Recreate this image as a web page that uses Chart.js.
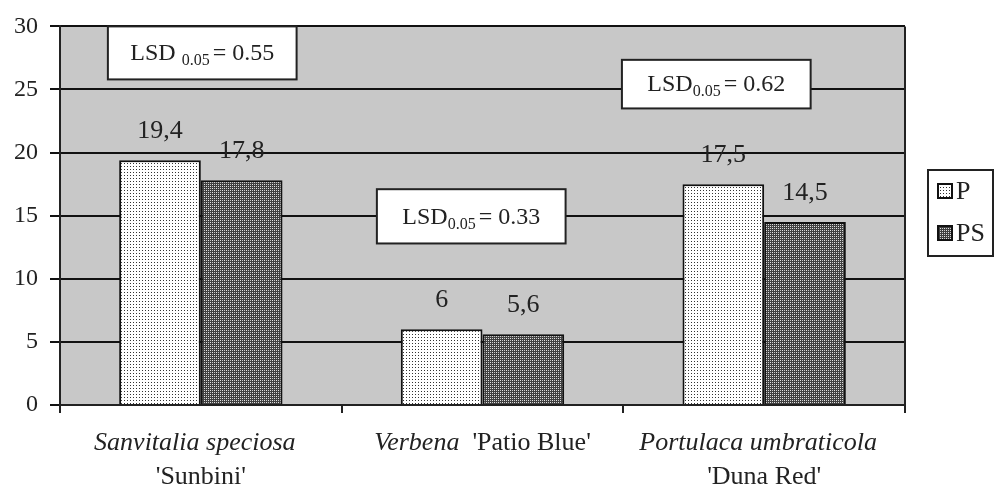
<!DOCTYPE html>
<html>
<head>
<meta charset="utf-8">
<script src="https://cdn.jsdelivr.net/npm/chart.js@4.4.1/dist/chart.umd.min.js"></script>
<style>
  html, body { margin: 0; padding: 0; background: #fff; }
  #wrap { width: 994px; height: 491px; position: relative; }
</style>
</head>
<body>
<div id="wrap"><canvas id="lsdChart" width="994" height="491"></canvas></div>
<script>
// data
var speciesNames = ['Sanvitalia speciosa', 'Verbena', 'Portulaca umbraticola'];
var cultivarNames = ["'Sunbini'", "'Patio Blue'", "'Duna Red'"];
var seriesNames = ['P', 'PS'];
var valuesP = [19.4, 6, 17.5];
var valuesPS = [17.8, 5.6, 14.5];
var lsdValues = ['0.55', '0.33', '0.62'];
var yTicks = [0, 5, 10, 15, 20, 25, 30];

var FONT = "'Liberation Serif', 'Times New Roman', serif";
var INK = '#222';

// fill patterns, like the old excel ones
function makePattern(kind) {
    var c = document.createElement('canvas');
    var g = c.getContext('2d');
    if (kind === 'dots') {
        c.width = 3; c.height = 3;
        g.fillStyle = '#fff';
        g.fillRect(0, 0, 3, 3);
        g.fillStyle = '#333';
        g.fillRect(1, 1, 1, 1);
    } else {
        c.width = 4; c.height = 4;
        g.fillStyle = '#404040';
        g.fillRect(0, 0, 4, 4);
        g.fillStyle = '#e6e6e6';
        g.fillRect(0, 0, 1, 1);
        g.fillRect(2, 2, 1, 1);
        g.fillStyle = '#c8c8c8';
        g.fillRect(2, 0, 1, 1);
        g.fillRect(0, 2, 1, 1);
    }
    return g.createPattern(c, 'repeat');
}
var patternP = makePattern('dots');
var patternPS = makePattern('cross');

// LSD boxes, placed in data units (category offset, value range)
var lsdBoxes = [
    { cat: 0.005, top: 30, bottom: 25.8, gap: true },
    { cat: 0.96, top: 17.1, bottom: 12.8, gap: false },
    { cat: 1.83, top: 27.35, bottom: 23.5, gap: false }
];
var lsdBoxWidth = 0.67; // in category widths

var plotBackground = {
    id: 'plotBackground',
    beforeDraw: function (chart) {
        var a = chart.chartArea, ctx = chart.ctx;
        ctx.save();
        ctx.fillStyle = '#c8c8c8';
        ctx.fillRect(a.left, a.top, a.right - a.left, a.bottom - a.top);
        ctx.restore();
    },
    afterDraw: function (chart) {
        var a = chart.chartArea, ctx = chart.ctx;
        ctx.save();
        ctx.strokeStyle = INK;
        ctx.lineWidth = 2;
        ctx.beginPath();
        ctx.moveTo(a.right, a.top);
        ctx.lineTo(a.right, a.bottom);
        ctx.stroke();
        ctx.restore();
    }
};

var valueLabels = {
    id: 'valueLabels',
    afterDatasetsDraw: function (chart) {
        var ctx = chart.ctx;
        ctx.save();
        ctx.font = '26px ' + FONT;
        ctx.fillStyle = INK;
        ctx.textAlign = 'center';
        ctx.textBaseline = 'middle';
        chart.data.datasets.forEach(function (ds, i) {
            chart.getDatasetMeta(i).data.forEach(function (bar, j) {
                var txt = String(ds.data[j]).replace('.', ',');
                ctx.fillText(txt, bar.x, bar.y - 29);
            });
        });
        ctx.restore();
    }
};

var lsdNotes = {
    id: 'lsdNotes',
    afterDatasetsDraw: function (chart) {
        var ctx = chart.ctx;
        var xs = chart.scales.x, ys = chart.scales.y;
        var catW = xs.getPixelForValue(1) - xs.getPixelForValue(0);
        ctx.save();
        lsdBoxes.forEach(function (b, i) {
            var cx = xs.getPixelForValue(0) + b.cat * catW;
            var w = lsdBoxWidth * catW;
            var top = ys.getPixelForValue(b.top);
            var bot = ys.getPixelForValue(b.bottom);
            ctx.fillStyle = '#fff';
            ctx.fillRect(cx - w / 2, top, w, bot - top);
            ctx.strokeStyle = INK;
            ctx.lineWidth = 2;
            ctx.strokeRect(cx - w / 2, top, w, bot - top);

            var big = '24px ' + FONT, small = '16px ' + FONT;
            var p1 = b.gap ? 'LSD ' : 'LSD';
            var p2 = '0.05';
            var p3 = '= ' + lsdValues[i];
            var gap = 3;
            ctx.font = big;
            var w1 = ctx.measureText(p1).width, w3 = ctx.measureText(p3).width;
            ctx.font = small;
            var w2 = ctx.measureText(p2).width;
            var x = cx - (w1 + w2 + gap + w3) / 2;
            var y = (top + bot) / 2 + 1;
            ctx.fillStyle = INK;
            ctx.textAlign = 'left';
            ctx.textBaseline = 'middle';
            ctx.font = big;
            ctx.fillText(p1, x, y);
            ctx.font = small;
            ctx.fillText(p2, x + w1, y + 7);
            ctx.font = big;
            ctx.fillText(p3, x + w1 + w2 + gap, y);
        });
        ctx.restore();
    }
};

var categoryLabels = {
    id: 'categoryLabels',
    afterDraw: function (chart) {
        var ctx = chart.ctx, xs = chart.scales.x;
        var y1 = xs.top + 38, y2 = xs.top + 72;
        ctx.save();
        ctx.fillStyle = INK;
        ctx.textBaseline = 'middle';
        speciesNames.forEach(function (name, i) {
            var cx = xs.getPixelForValue(i);
            if (i === 1) {
                // genus and cultivar share one line here
                ctx.font = 'italic 26px ' + FONT;
                var wa = ctx.measureText(name + '  ').width;
                ctx.font = '26px ' + FONT;
                var wb = ctx.measureText(cultivarNames[i]).width;
                var x0 = cx - (wa + wb) / 2;
                ctx.textAlign = 'left';
                ctx.font = 'italic 26px ' + FONT;
                ctx.fillText(name, x0, y1);
                ctx.font = '26px ' + FONT;
                ctx.fillText(cultivarNames[i], x0 + wa, y1);
            } else {
                ctx.textAlign = 'center';
                ctx.font = 'italic 26px ' + FONT;
                ctx.fillText(name, cx - 6, y1);
                ctx.font = '26px ' + FONT;
                ctx.fillText(cultivarNames[i], cx, y2);
            }
        });
        ctx.restore();
    }
};

var legendBox = {
    id: 'legendBox',
    afterDraw: function (chart) {
        var ctx = chart.ctx;
        var left = 928, top = 170, right = 993, bottom = 256;
        ctx.save();
        ctx.strokeStyle = INK;
        ctx.lineWidth = 2;
        ctx.strokeRect(left, top, right - left, bottom - top);
        var rows = [191, 233];
        chart.data.datasets.forEach(function (ds, i) {
            var cy = rows[i];
            ctx.fillStyle = ds.backgroundColor;
            ctx.fillRect(938, cy - 7, 14, 14);
            ctx.strokeStyle = '#111';
            ctx.lineWidth = 2;
            ctx.strokeRect(938, cy - 7, 14, 14);
            ctx.fillStyle = INK;
            ctx.font = '26px ' + FONT;
            ctx.textAlign = 'left';
            ctx.textBaseline = 'middle';
            ctx.fillText(ds.label, 956, cy + 1);
        });
        ctx.restore();
    }
};

var ctx = document.getElementById('lsdChart').getContext('2d');
var lsdChart = new Chart(ctx, {
    type: 'bar',
    data: {
        labels: speciesNames,
        datasets: [{
            label: seriesNames[0],
            data: valuesP,
            backgroundColor: patternP,
            borderColor: '#111',
            borderWidth: 2
        }, {
            label: seriesNames[1],
            data: valuesPS,
            backgroundColor: patternPS,
            borderColor: '#111',
            borderWidth: 2
        }]
    },
    options: {
        responsive: false,
        animation: false,
        devicePixelRatio: 1,
        layout: { padding: { top: 23, right: 89, left: 0, bottom: 0 } },
        datasets: { bar: { categoryPercentage: 0.58, barPercentage: 1 } },
        plugins: {
            legend: { display: false },
            tooltip: { enabled: false }
        },
        scales: {
            x: {
                grid: {
                    offset: true,
                    drawOnChartArea: false,
                    color: INK,
                    lineWidth: 2,
                    tickLength: 8
                },
                border: { display: true, color: INK, width: 2 },
                ticks: { callback: function () { return ''; } },
                afterFit: function (scale) { scale.height = 86; }
            },
            y: {
                min: 0,
                max: 30,
                afterBuildTicks: function (scale) {
                    scale.ticks = yTicks.map(function (v) { return { value: v }; });
                },
                grid: { color: '#111', lineWidth: 2, tickLength: 10 },
                border: { display: true, color: INK, width: 2 },
                ticks: {
                    color: INK,
                    padding: 12,
                    font: { family: FONT, size: 24 }
                },
                afterFit: function (scale) { scale.width = 60; }
            }
        }
    },
    plugins: [plotBackground, valueLabels, lsdNotes, categoryLabels, legendBox]
});
</script>
</body>
</html>
